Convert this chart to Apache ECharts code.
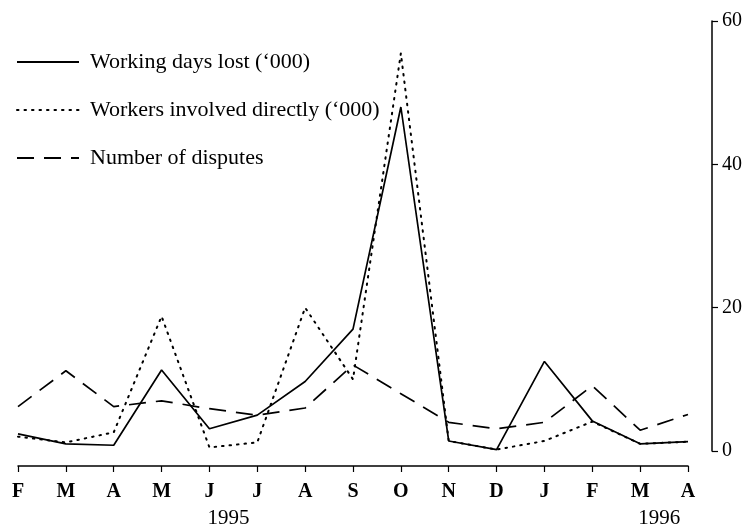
<!DOCTYPE html>
<html>
<head>
<meta charset="utf-8">
<script src="https://cdn.jsdelivr.net/npm/echarts@6/dist/echarts.min.js"></script>
<style>
  html, body { margin: 0; padding: 0; background: #fff; }
  #chart { width: 754px; height: 526px; }
</style>
</head>
<body>
<div id="chart"></div>
<script>
// months Feb 1995 .. Apr 1996
const months = ['F', 'M', 'A', 'M', 'J', 'J', 'A', 'S', 'O', 'N', 'D', 'J', 'F', 'M', 'A'];
const daysLost = [2.4, 1.0, 0.8, 11.3, 3.1, 5.0, 9.7, 17.0, 48.0, 1.4, 0.2, 12.5, 4.2, 1.0, 1.3];
const workersInvolved = [2.0, 1.2, 2.6, 18.8, 0.5, 1.2, 20.0, 10.0, 55.5, 1.4, 0.2, 1.4, 4.1, 1.0, 1.3];
const disputes = [6.2, 11.2, 6.2, 7.0, 5.9, 5.0, 6.0, 12.0, 8.0, 4.0, 3.1, 4.0, 9.1, 2.9, 5.1];
const yTicks = [0, 20, 40, 60];
const years = [{ label: '1995', at: 4 }, { label: '1996', at: 13 }];

const serif = '"Liberation Serif", "DejaVu Serif", serif';
const chart = echarts.init(document.getElementById('chart'));

const option = {
  backgroundColor: '#fff',
  animation: false,
  grid: { left: 18, right: 66, top: 21, bottom: 75 },
  legend: {
    orient: 'vertical',
    left: 16,
    top: 51,
    padding: 0,
    itemWidth: 62,
    itemHeight: 14,
    itemGap: 26,
    itemStyle: { opacity: 0 },
    textStyle: { fontFamily: serif, fontSize: 22, color: '#000', padding: [0, 0, 0, 6] },
    data: ["Working days lost (\u2018000)", "Workers involved directly (\u2018000)", 'Number of disputes']
  },
  xAxis: {
    type: 'category',
    data: months,
    boundaryGap: false,
    offset: 15,
    axisLine: { onZero: false, lineStyle: { color: '#000', width: 1.5 } },
    axisTick: { alignWithLabel: true, length: 6, lineStyle: { color: '#000', width: 1.2 } },
    axisLabel: { margin: 16, fontFamily: serif, fontSize: 20, fontWeight: 'bold', color: '#000' },
    splitLine: { show: false }
  },
  yAxis: {
    type: 'value',
    position: 'right',
    offset: 24,
    min: yTicks[0],
    max: yTicks[yTicks.length - 1],
    interval: 20,
    axisLine: { show: true, lineStyle: { color: '#000', width: 1.5 } },
    axisTick: { show: true, length: 6, lineStyle: { color: '#000', width: 1.2 } },
    axisLabel: { margin: 10, fontFamily: serif, fontSize: 20, color: '#000' },
    splitLine: { show: false }
  },
  series: [
    {
      name: "Working days lost (\u2018000)",
      type: 'line',
      data: daysLost,
      symbol: 'none',
      lineStyle: { color: '#000', width: 1.7, type: 'solid' },
      itemStyle: { color: '#000' }
    },
    {
      name: "Workers involved directly (\u2018000)",
      type: 'line',
      data: workersInvolved,
      symbol: 'none',
      lineStyle: { color: '#000', width: 2, type: [1.5, 6], cap: 'round' },
      itemStyle: { color: '#000' }
    },
    {
      name: 'Number of disputes',
      type: 'line',
      data: disputes,
      symbol: 'none',
      lineStyle: { color: '#000', width: 1.7, type: [17, 10] },
      itemStyle: { color: '#000' }
    }
  ]
};
chart.setOption(option);

// year labels under the month row
const yearGraphics = years.map(function (y) {
  const px = chart.convertToPixel({ xAxisIndex: 0 }, y.at);
  return {
    type: 'text',
    x: px - 2,
    y: 518,
    style: { text: y.label, font: '21px ' + serif, fill: '#000', textAlign: 'left', textVerticalAlign: 'middle' }
  };
});
chart.setOption({ graphic: yearGraphics });
</script>
</body>
</html>
